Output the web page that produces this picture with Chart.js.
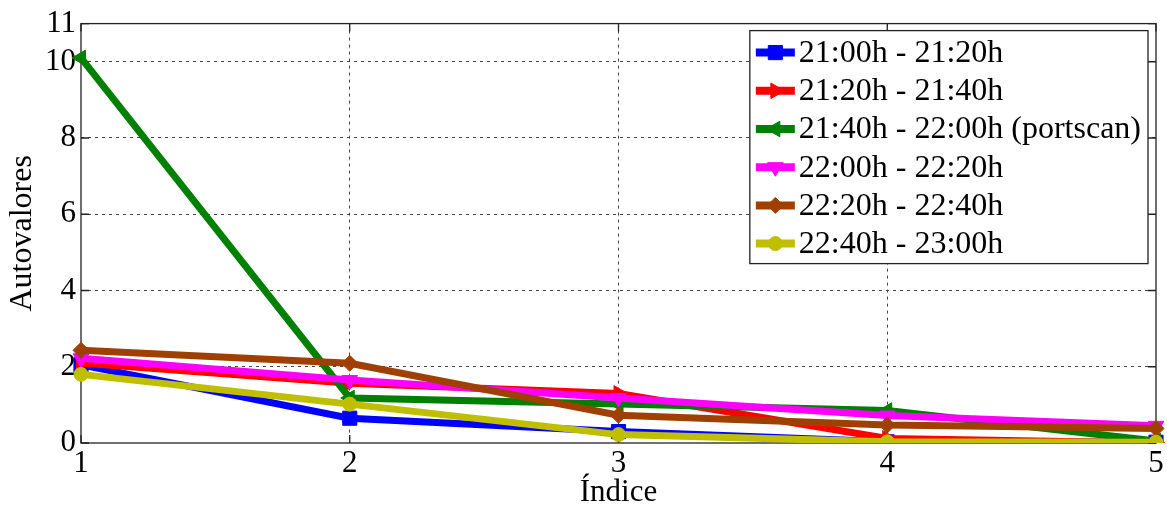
<!DOCTYPE html>
<html>
<head>
<meta charset="utf-8">
<script src="https://cdn.jsdelivr.net/npm/chart.js@4/dist/chart.umd.min.js"></script>
<style>
  html, body { margin: 0; padding: 0; background: #fff; }
  #wrap { width: 1167px; height: 508px; }
</style>
</head>
<body>
<div id="wrap"><canvas id="eigen-chart"></canvas></div>
<script>
const INDICES = [1, 2, 3, 4, 5];
const Y_TICKS = [0, 2, 4, 6, 8, 10, 11];

const LABELS = [
    "21:00h - 21:20h",
    "21:20h - 21:40h",
    "21:40h - 22:00h (portscan)",
    "22:00h - 22:20h",
    "22:20h - 22:40h",
    "22:40h - 23:00h"
];

const S_2100 = [2.05, 0.65, 0.30, 0.03, 0.02];
const S_2120 = [2.10, 1.57, 1.30, 0.12, 0.00];
const S_2140 = [10.10, 1.18, 1.02, 0.85, 0.05];
const S_2200 = [2.22, 1.65, 1.18, 0.72, 0.45];
const S_2220 = [2.43, 2.09, 0.73, 0.47, 0.38];
const S_2240 = [1.80, 1.02, 0.22, 0.03, 0.02];

const SERIES = [S_2100, S_2120, S_2140, S_2200, S_2220, S_2240];

const STYLES = [
    { color: "#0000ff", pointStyle: "rect", rotation: 0, radius: 10 },
    { color: "#ff0000", pointStyle: "triangle", rotation: 90, radius: 9 },
    { color: "#008000", pointStyle: "triangle", rotation: -90, radius: 9 },
    { color: "#ff00ff", pointStyle: "triangle", rotation: 180, radius: 9 },
    { color: "#a04000", pointStyle: "rectRot", rotation: 0, radius: 8 },
    { color: "#bfbf00", pointStyle: "circle", rotation: 0, radius: 7 }
];

const FONT = "'Liberation Serif', 'Times New Roman', serif";

const datasets = SERIES.map((values, i) => {
    const st = STYLES[i];
    return {
        label: LABELS[i],
        data: values,
        borderColor: st.color,
        backgroundColor: st.color,
        borderWidth: 7,
        tension: 0,
        pointStyle: st.pointStyle,
        pointRotation: st.rotation,
        pointRadius: st.radius,
        pointBorderWidth: 1,
        order: SERIES.length - i
    };
});

// axes box with inward tick marks, drawn under the lines
const frame = {
    id: "frame",
    beforeDatasetsDraw(chart) {
        const { ctx, chartArea: a, scales } = chart;
        ctx.save();
        ctx.strokeStyle = "#222";
        ctx.lineWidth = 1.3;
        ctx.strokeRect(a.left, a.top, a.right - a.left, a.bottom - a.top);
        const tl = 8;
        ctx.beginPath();
        INDICES.forEach((v, i) => {
            const x = scales.x.getPixelForValue(i);
            ctx.moveTo(x, a.bottom); ctx.lineTo(x, a.bottom - tl);
            ctx.moveTo(x, a.top); ctx.lineTo(x, a.top + tl);
        });
        Y_TICKS.forEach(v => {
            const y = scales.y.getPixelForValue(v);
            ctx.moveTo(a.left, y); ctx.lineTo(a.left + tl, y);
            ctx.moveTo(a.right, y); ctx.lineTo(a.right - tl, y);
        });
        ctx.stroke();
        ctx.restore();
    }
};

// boxed legend in the upper right of the plot
const boxLegend = {
    id: "boxLegend",
    afterDatasetsDraw(chart) {
        const { ctx, chartArea: a } = chart;
        const sets = chart.data.datasets;
        ctx.save();
        ctx.font = "32px " + FONT;
        const textW = Math.max(...sets.map(d => ctx.measureText(d.label).width));
        const rowH = 38.2;
        const lineLen = 39;
        const w = 6 + lineLen + 4 + textW + 7;
        const h = 233;
        const x0 = a.right - 8 - w;
        const y0 = a.top + 7;
        ctx.fillStyle = "#fff";
        ctx.fillRect(x0, y0, w, h);
        ctx.strokeStyle = "#222";
        ctx.lineWidth = 1.3;
        ctx.strokeRect(x0, y0, w, h);
        sets.forEach((d, i) => {
            const cy = y0 + 22 + i * rowH;
            const lx = x0 + 6;
            ctx.strokeStyle = d.borderColor;
            ctx.lineWidth = 8;
            ctx.beginPath();
            ctx.moveTo(lx, cy);
            ctx.lineTo(lx + lineLen, cy);
            ctx.stroke();
            ctx.fillStyle = d.backgroundColor;
            ctx.lineWidth = 1;
            Chart.helpers.drawPoint(ctx, {
                pointStyle: d.pointStyle,
                rotation: d.pointRotation,
                radius: d.pointRadius,
                borderWidth: 1
            }, lx + lineLen / 2, cy);
            ctx.fillStyle = "#000";
            ctx.textBaseline = "middle";
            ctx.textAlign = "left";
            ctx.fillText(d.label, lx + lineLen + 4, cy + 1);
        });
        ctx.restore();
    }
};

const edgeHidden = (count) => (c) =>
    (c.index === 0 || c.index === count - 1) ? "rgba(0,0,0,0)" : "#444";

new Chart(document.getElementById("eigen-chart"), {
    type: "line",
    data: { labels: INDICES, datasets },
    plugins: [frame, boxLegend],
    options: {
        responsive: true,
        maintainAspectRatio: false,
        animation: false,
        layout: { padding: { top: 23, right: 10, left: 0, bottom: 0 } },
        plugins: {
            legend: { display: false },
            tooltip: { enabled: false }
        },
        scales: {
            x: {
                type: "category",
                offset: false,
                afterFit: s => { s.height = 65; },
                grid: { color: edgeHidden(INDICES.length), drawTicks: false, lineWidth: 1 },
                border: { display: false, dash: [3, 4] },
                ticks: { color: "#000", padding: 2, font: { family: FONT, size: 31 }, maxRotation: 0 },
                title: {
                    display: true,
                    text: "Índice",
                    color: "#000",
                    font: { family: FONT, size: 31, lineHeight: 1 },
                    padding: { top: 0, bottom: 0 }
                }
            },
            y: {
                min: 0,
                max: 11,
                afterFit: s => { s.width = 81; },
                afterBuildTicks: s => { s.ticks = Y_TICKS.map(v => ({ value: v })); },
                grid: { color: edgeHidden(Y_TICKS.length), drawTicks: false, lineWidth: 1 },
                border: { display: false, dash: [3, 4] },
                ticks: { color: "#000", padding: 5, font: { family: FONT, size: 31 } },
                title: {
                    display: true,
                    text: "Autovalores",
                    color: "#000",
                    font: { family: FONT, size: 32, lineHeight: 1.2 },
                    padding: { top: 3, bottom: 0 }
                }
            }
        }
    }
});
</script>
</body>
</html>
